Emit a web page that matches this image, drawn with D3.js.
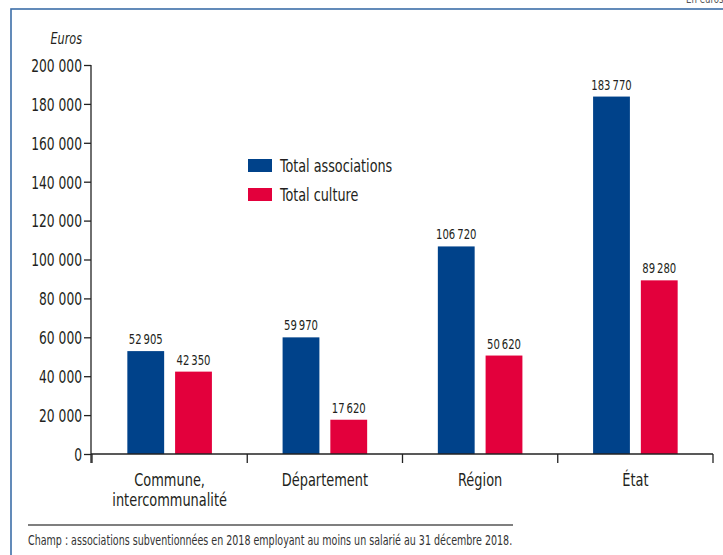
<!DOCTYPE html>
<html><head><meta charset="utf-8">
<script src="https://cdn.jsdelivr.net/npm/d3@7"></script>
<style>
body{margin:0;background:#fff;}
svg text{font-family:"DejaVu Sans Condensed","Liberation Sans Narrow",sans-serif;fill:#231f20;}
</style></head><body>
<svg id="c" width="723" height="555"></svg>
<script>
const categories = ["Commune,\nintercommunalité", "Département", "Région", "État"];
const series = ["Total associations", "Total culture"];
const totalAssociations = [52905, 59970, 106720, 183770];
const totalCulture = [42350, 17620, 50620, 89280];
const yTicks = [0, 20000, 40000, 60000, 80000, 100000, 120000, 140000, 160000, 180000, 200000];
const colors = ["#00428a", "#e3003c"];

const svg = d3.select("#c");
const fmt = v => d3.format(",")(v).replace(/,/g, "\u202f");
const fmtTick = v => d3.format(",")(v).replace(/,/g, " ");
const SX = 0.8;

function label(parent, x, y, str, o = {}) {
  const g = parent.append("g").attr("transform", `translate(${x},${y}) scale(${o.sx || SX},1)`);
  const t = g.append("text").attr("x", 0).attr("y", 0)
    .attr("text-anchor", o.anchor || "start").attr("font-size", o.size || 16);
  if (o.italic) t.attr("font-style", "italic");
  if (o.fill) t.style("fill", o.fill);
  t.text(str);
  return t;
}

// frame
svg.append("rect").attr("x", 11).attr("y", 9).attr("width", 730).attr("height", 560)
  .attr("fill", "none").attr("stroke", "#3c6ea8").attr("stroke-width", 1.6);
label(svg, 686, 3, "En euros", {size: 12, fill: "#555"});

const x = d3.scaleBand().domain(categories).range([92, 713]).paddingInner(0).paddingOuter(0);
const xs = d3.scaleBand().domain(series).range([0, x.bandwidth()]).paddingInner(0.229).paddingOuter(0.74);
const y = d3.scaleLinear().domain([0, 200000]).range([454, 65]);

// y axis
const yAxis = svg.append("g").attr("transform", "translate(91,0)")
  .call(d3.axisLeft(y).tickValues(yTicks).tickFormat(fmtTick).tickSize(7).tickSizeOuter(0));
yAxis.select(".domain").remove();
yAxis.selectAll("line").attr("stroke", "#222").attr("stroke-width", 1.3);
yAxis.selectAll(".tick text").attr("font-size", 17.5).attr("dy", "0.36em")
  .attr("x", -9 / 0.78).attr("transform", `scale(0.78,1)`).style("fill", "#231f20");
svg.append("line").attr("x1", 91).attr("x2", 91).attr("y1", y(200000)).attr("y2", 463)
  .attr("stroke", "#222").attr("stroke-width", 1.3);

label(svg, 82, 44, "Euros", {anchor: "end", size: 16, italic: true, sx: 0.78});

// bars
const data = categories.map((c, i) => ({c, vals: [totalAssociations[i], totalCulture[i]]}));
const g = svg.append("g");
data.forEach(d => {
  d.vals.forEach((v, j) => {
    const bx = x(d.c) + xs(series[j]);
    g.append("rect").attr("x", bx).attr("y", y(v)).attr("width", xs.bandwidth())
      .attr("height", y(0) - y(v)).attr("fill", colors[j]);
    label(g, bx + xs.bandwidth() / 2, y(v) - 7, fmt(v), {anchor: "middle", size: 14, fill: "#231f20", sx: 0.8});
  });
});

// x axis
const xg = svg.append("g").attr("transform", "translate(0,454)");
xg.append("line").attr("x1", 91).attr("x2", 713).attr("stroke", "#222").attr("stroke-width", 1.3);
const bounds = categories.map(c => x(c)).concat([x.range()[1]]);
xg.selectAll("line.t").data(bounds).join("line").attr("class", "t")
  .attr("x1", d => d).attr("x2", d => d).attr("y1", 0).attr("y2", 9)
  .attr("stroke", "#222").attr("stroke-width", 1.3);
categories.forEach(c => {
  c.split("\n").forEach((l, k) => label(xg, x(c) + x.bandwidth() / 2, 32 + k * 20, l, {anchor: "middle", size: 18, sx: 0.8}));
});

// legend
const lg = svg.append("g");
series.forEach((s, i) => {
  lg.append("rect").attr("x", 248).attr("y", 159 + i * 29).attr("width", 24).attr("height", 13).attr("fill", colors[i]);
  label(lg, 280, 172 + i * 29, s, {size: 18, sx: 0.79});
});

// footer
svg.append("line").attr("x1", 28).attr("x2", 513).attr("y1", 525).attr("y2", 525).attr("stroke", "#555").attr("stroke-width", 1.6);
label(svg, 28, 545, "Champ : associations subventionnées en 2018 employant au moins un salarié au 31 décembre 2018.",
  {size: 14, fill: "#333", sx: 0.757});
</script></body></html>
